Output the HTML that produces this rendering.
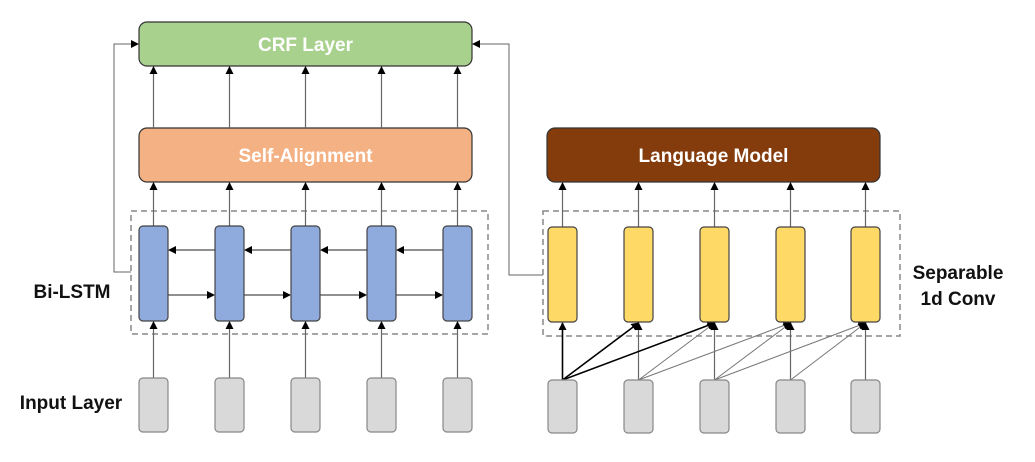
<!DOCTYPE html>
<html><head><meta charset="utf-8"><style>
html,body{margin:0;padding:0;background:#fff;width:1035px;height:462px;overflow:hidden}
text{font-family:"Liberation Sans","Noto Sans CJK KR",sans-serif;font-weight:bold}
</style></head><body>
<svg width="1035" height="462" viewBox="0 0 1035 462" xmlns="http://www.w3.org/2000/svg">
<defs>
<marker id="a" markerWidth="8" markerHeight="8" refX="7" refY="4" orient="auto" markerUnits="userSpaceOnUse"><path d="M0,0 L8,4 L0,8 z" fill="#000"/></marker>
</defs>
<!-- boxes -->
<rect x="139" y="22" width="333" height="44" rx="8" fill="#a9d18e" stroke="#333" stroke-width="1.2"/>
<text x="305.5" y="51" font-size="19" fill="#fff" text-anchor="middle">CRF Layer</text>
<rect x="139" y="128" width="333" height="54" rx="8" fill="#f4b183" stroke="#333" stroke-width="1.2"/>
<text x="305.5" y="162" font-size="19" fill="#fff" text-anchor="middle">Self-Alignment</text>
<rect x="547" y="128" width="333" height="54" rx="8" fill="#843c0c" stroke="#333" stroke-width="1.2"/>
<text x="713.5" y="162" font-size="19" fill="#fff" text-anchor="middle">Language Model</text>
<!-- dashed -->
<rect x="131" y="211" width="357" height="123" fill="none" stroke="#888" stroke-width="1.5" stroke-dasharray="6,4"/>
<rect x="543" y="211" width="357" height="125" fill="none" stroke="#888" stroke-width="1.5" stroke-dasharray="6,4"/>
<!-- feedback lines -->
<polyline points="131,272 114,272 114,44 138,44" fill="none" stroke="#666" stroke-width="1" marker-end="url(#a)"/>
<polyline points="543,275 509,275 509,44 473,44" fill="none" stroke="#666" stroke-width="1" marker-end="url(#a)"/>
<g stroke="#666" stroke-width="1.2" fill="none" marker-end="url(#a)">
<!-- left vertical arrows -->
<line x1="153.5" y1="128" x2="153.5" y2="67"/><line x1="229.5" y1="128" x2="229.5" y2="67"/><line x1="305.5" y1="128" x2="305.5" y2="67"/><line x1="381.5" y1="128" x2="381.5" y2="67"/><line x1="457.5" y1="128" x2="457.5" y2="67"/>
<line x1="153.5" y1="226" x2="153.5" y2="183"/><line x1="229.5" y1="226" x2="229.5" y2="183"/><line x1="305.5" y1="226" x2="305.5" y2="183"/><line x1="381.5" y1="226" x2="381.5" y2="183"/><line x1="457.5" y1="226" x2="457.5" y2="183"/>
<line x1="153.5" y1="378" x2="153.5" y2="322"/><line x1="229.5" y1="378" x2="229.5" y2="322"/><line x1="305.5" y1="378" x2="305.5" y2="322"/><line x1="381.5" y1="378" x2="381.5" y2="322"/><line x1="457.5" y1="378" x2="457.5" y2="322"/>
<!-- right vertical -->
<line x1="562.5" y1="227" x2="562.5" y2="183"/><line x1="638.5" y1="227" x2="638.5" y2="183"/><line x1="714.5" y1="227" x2="714.5" y2="183"/><line x1="790.5" y1="227" x2="790.5" y2="183"/><line x1="865.5" y1="227" x2="865.5" y2="183"/>
<line x1="638.5" y1="380" x2="638.5" y2="323"/><line x1="714.5" y1="380" x2="714.5" y2="323"/><line x1="790.5" y1="380" x2="790.5" y2="323"/><line x1="865.5" y1="380" x2="865.5" y2="323"/>
</g>
<!-- LSTM horizontals -->
<g stroke="#222" stroke-width="1" marker-end="url(#a)">
<line x1="215" y1="250" x2="169" y2="250"/><line x1="291" y1="250" x2="245" y2="250"/><line x1="367" y1="250" x2="321" y2="250"/><line x1="443" y1="250" x2="397" y2="250"/>
<line x1="168" y1="295" x2="214" y2="295"/><line x1="244" y1="295" x2="290" y2="295"/><line x1="320" y1="295" x2="366" y2="295"/><line x1="396" y1="295" x2="442" y2="295"/>
</g>
<!-- conv connections -->
<g stroke="#777" stroke-width="1" marker-end="url(#a)">
<line x1="638.5" y1="380" x2="714.5" y2="323"/><line x1="638.5" y1="380" x2="790.5" y2="323"/>
<line x1="714.5" y1="380" x2="790.5" y2="323"/><line x1="714.5" y1="380" x2="865.5" y2="323"/>
<line x1="790.5" y1="380" x2="865.5" y2="323"/>
</g>
<g stroke="#000" stroke-width="1.6" marker-end="url(#a)">
<line x1="562.5" y1="380" x2="562.5" y2="323"/><line x1="562.5" y1="380" x2="638.5" y2="323"/><line x1="562.5" y1="380" x2="714.5" y2="323"/>
</g>
<!-- cells -->
<g fill="#8faadc" stroke="#444" stroke-width="1.2">
<rect x="139" y="226" width="29" height="95" rx="4"/><rect x="215" y="226" width="29" height="95" rx="4"/><rect x="291" y="226" width="29" height="95" rx="4"/><rect x="367" y="226" width="29" height="95" rx="4"/><rect x="443" y="226" width="29" height="95" rx="4"/>
</g>
<g fill="#ffd966" stroke="#444" stroke-width="1.2">
<rect x="548" y="227" width="29" height="95" rx="4"/><rect x="624" y="227" width="29" height="95" rx="4"/><rect x="700" y="227" width="29" height="95" rx="4"/><rect x="776" y="227" width="29" height="95" rx="4"/><rect x="851" y="227" width="29" height="95" rx="4"/>
</g>
<g fill="#d9d9d9" stroke="#888" stroke-width="1.2">
<rect x="139" y="378" width="29" height="54" rx="4"/><rect x="215" y="378" width="29" height="54" rx="4"/><rect x="291" y="378" width="29" height="54" rx="4"/><rect x="367" y="378" width="29" height="54" rx="4"/><rect x="443" y="378" width="29" height="54" rx="4"/>
<rect x="548" y="380" width="29" height="53" rx="4"/><rect x="624" y="380" width="29" height="53" rx="4"/><rect x="700" y="380" width="29" height="53" rx="4"/><rect x="776" y="380" width="29" height="53" rx="4"/><rect x="851" y="380" width="29" height="53" rx="4"/>
</g>
<!-- labels -->
<text x="72" y="298" font-size="19" fill="#111" text-anchor="middle">Bi-LSTM</text>
<text x="71" y="409" font-size="19" fill="#111" text-anchor="middle">Input Layer</text>
<text x="958" y="279" font-size="19" fill="#111" text-anchor="middle">Separable</text>
<text x="958" y="305" font-size="19" fill="#111" text-anchor="middle">1d Conv</text>
</svg>
</body></html>
